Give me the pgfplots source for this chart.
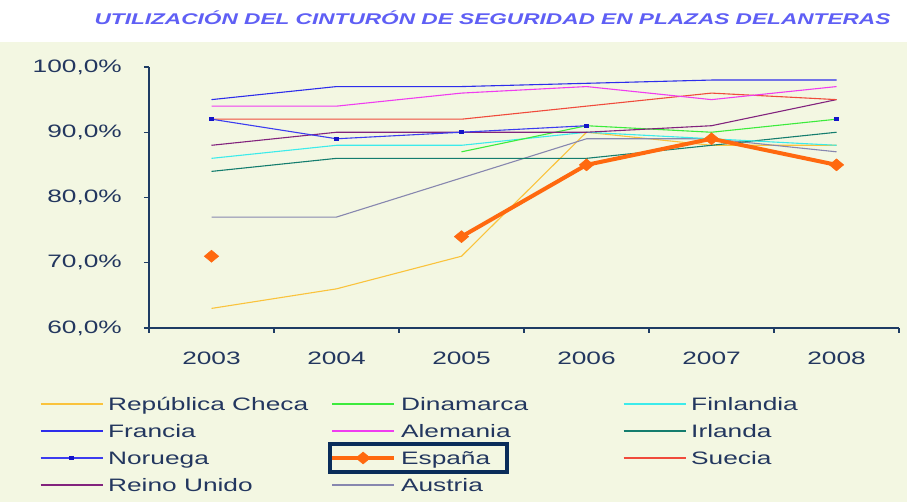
\documentclass[border=0pt]{standalone}
\usepackage{pgfplots}
\pgfplotsset{compat=1.18}
\usepackage{fontspec}
\setmainfont{Liberation Sans}[FakeStretch=1.46]
\definecolor{bgc}{RGB}{243,247,226}
\definecolor{titlec}{RGB}{95,95,245}
\definecolor{tickc}{RGB}{35,55,95}
\definecolor{axc}{RGB}{30,60,100}
\definecolor{crep}{RGB}{250,195,60}
\definecolor{cdin}{RGB}{60,235,60}
\definecolor{cfin}{RGB}{60,235,235}
\definecolor{cfra}{RGB}{45,45,235}
\definecolor{cale}{RGB}{240,60,240}
\definecolor{cirl}{RGB}{20,125,110}
\definecolor{cnor}{RGB}{60,60,240}
\definecolor{cnormk}{RGB}{20,20,200}
\definecolor{cesp}{RGB}{255,105,15}
\definecolor{csue}{RGB}{240,75,60}
\definecolor{cru}{RGB}{130,35,125}
\definecolor{caus}{RGB}{135,135,175}
\definecolor{boxc}{RGB}{10,45,90}
\pgfplotsset{
  srep/.style={crep, line width=1.1pt, mark=none},
  sdin/.style={cdin, line width=1.1pt, mark=none},
  sfin/.style={cfin, line width=1.1pt, mark=none},
  sfra/.style={cfra, line width=1.1pt, mark=none},
  sale/.style={cale, line width=1.1pt, mark=none},
  sirl/.style={cirl, line width=1.1pt, mark=none},
  snor/.style={cnor, line width=1.1pt, mark=square*, mark size=2.2pt, mark options={yscale=0.6, fill=cnormk, draw=cnormk}},
  sesp/.style={cesp, line width=4pt, mark=diamond*, mark size=6pt, mark options={xscale=1.6, line width=0.5pt, fill=cesp, draw=cesp}},
  ssue/.style={csue, line width=1.1pt, mark=none},
  sru/.style={cru, line width=1.1pt, mark=none},
  saus/.style={caus, line width=1.1pt, mark=none},
}
\newcommand{\lb}[1]{\makebox[222pt][l]{#1}}
\begin{document}
\begin{tikzpicture}[x=1pt,y=1pt]
\useasboundingbox (0,0) rectangle (907,502);
\fill[white] (0,0) rectangle (907,502);
\fill[bgc] (0,0) rectangle (907,460);
\node[anchor=base, inner sep=0pt, text=titlec, font=\bfseries\itshape\fontsize{15.5}{18}\selectfont] at (492.5,477) {UTILIZACIÓN DEL CINTURÓN DE SEGURIDAD EN PLAZAS DELANTERAS};
\begin{axis}[
  at={(149pt,174pt)}, anchor=south west,
  scale only axis, width=750pt, height=261pt,
  xmin=-0.5, xmax=5.5, ymin=60, ymax=100,
  axis x line*=bottom, axis y line*=left,
  axis line style={-, axc, line width=1.2pt},
  tick style={axc, line width=1.2pt},
  tick align=outside, major tick length=5pt,
  xtick={-0.5,0.5,1.5,2.5,3.5,4.5,5.5}, xticklabels={},
  extra x ticks={0,1,2,3,4,5},
  extra x tick labels={2003,2004,2005,2006,2007,2008},
  extra x tick style={major tick length=0pt},
  ytick={60,70,80,90,100},
  yticklabels={{60,0\%},{70,0\%},{80,0\%},{90,0\%},{100,0\%}},
  tick label style={font=\fontsize{18}{21.6}\selectfont, text=tickc, inner sep=0pt},
  yticklabel style={xshift=-22pt},
  xticklabel style={yshift=-23.7pt},
  unbounded coords=jump,
  legend columns=3,
  legend cell align=left,
  legend style={draw=none, fill=none, inner sep=0pt, outer sep=0pt,
    at={(axis description cs:-0.14533,-0.25096)}, anchor=north west,
    nodes={inner sep=0pt, text height=17pt, text depth=4pt, font=\fontsize{18}{21.6}\selectfont, text=tickc},
    row sep=6pt,
    /tikz/every odd column/.style={column sep=5pt},
    /tikz/every even column/.style={column sep=0pt}},
  legend image code/.code={\draw[mark repeat=2,mark phase=2,#1] plot coordinates {(0pt,0pt)(31pt,0pt)(62pt,0pt)};},
]
\addplot[srep, forget plot] coordinates {(0,63)(1,66)(2,71)(3,90)(4,88)(5,88)};
\addplot[saus, forget plot] coordinates {(0,77)(1,77)(2,83)(3,89)(4,89)(5,87)};
\addplot[sirl, forget plot] coordinates {(0,84)(1,86)(2,86)(3,86)(4,88)(5,90)};
\addplot[sfin, forget plot] coordinates {(0,86)(1,88)(2,88)(3,90)(4,89)(5,88)};
\addplot[sdin, forget plot] coordinates {(0,nan)(1,nan)(2,87)(3,91)(4,90)(5,92)};
\addplot[sru, forget plot] coordinates {(0,88)(1,90)(2,90)(3,90)(4,91)(5,95)};
\addplot[ssue, forget plot] coordinates {(0,92)(1,92)(2,92)(3,94)(4,96)(5,95)};
\addplot[sale, forget plot] coordinates {(0,94)(1,94)(2,96)(3,97)(4,95)(5,97)};
\addplot[sfra, forget plot] coordinates {(0,95)(1,97)(2,97)(3,97.5)(4,98)(5,98)};
\addplot[snor, forget plot] coordinates {(0,92)(1,89)(2,90)(3,91)(4,nan)(5,92)};
\addplot[sesp, forget plot] coordinates {(0,71)(1,nan)(2,74)(3,85)(4,89)(5,85)};
\addlegendimage{srep}\addlegendentry{\lb{República Checa}}
\addlegendimage{sdin}\addlegendentry{\lb{Dinamarca}}
\addlegendimage{sfin}\addlegendentry{Finlandia}
\addlegendimage{sfra}\addlegendentry{\lb{Francia}}
\addlegendimage{sale}\addlegendentry{\lb{Alemania}}
\addlegendimage{sirl}\addlegendentry{Irlanda}
\addlegendimage{snor}\addlegendentry{\lb{Noruega}}
\addlegendimage{sesp}\addlegendentry{\lb{España}}
\addlegendimage{ssue}\addlegendentry{Suecia}
\addlegendimage{sru}\addlegendentry{\lb{Reino Unido}}
\addlegendimage{saus}\addlegendentry{\lb{Austria}}
\end{axis}
\draw[boxc, line width=3.5pt] (330,58) rectangle (507,30);
\end{tikzpicture}
\end{document}
